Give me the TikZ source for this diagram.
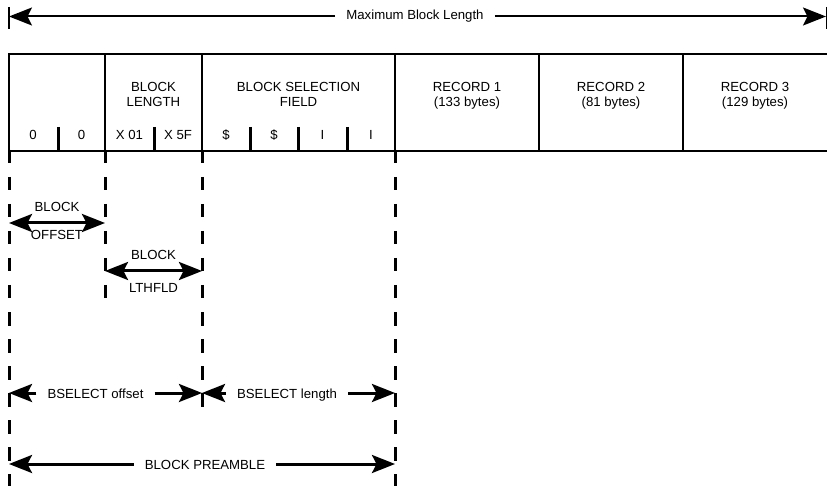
\documentclass[tikz,border=0pt]{standalone}
\usepackage{fontspec}
\setmainfont{Liberation Sans}
\usetikzlibrary{arrows.meta}

\begin{document}
\begin{tikzpicture}[x=1pt,y=-1pt,
  font=\fontsize{13.2}{15}\selectfont,
  lbl/.style={inner sep=0pt,text height=9.5pt,text depth=0pt},
  gap/.style={lbl,inner xsep=11pt},
  tbl/.style={line width=2pt},
  sep/.style={line width=3pt},
  guide/.style={line width=3pt,dash pattern=on 13.5pt off 13.5pt},
  tip/.tip={Stealth[length=23pt,width=18pt,inset=4.5pt]},
  dim/.style={line width=3pt,-tip},
  dimboth/.style={line width=3pt,tip-tip}]
  \useasboundingbox (0,0) rectangle (827,486);
  % maximum block length
  \coordinate (mL) at (9,16.5);
  \coordinate (mR) at (826,16.5);
  \draw[line width=2pt] (9,7) -- (9,29);
  \draw[line width=1pt] (826,7) -- (826,29);
  \node[gap] (maxlen) at (415,14.75) {Maximum Block Length};
  \draw[dim,line width=2pt] (maxlen.west |- mL) -- (mL);
  \draw[dim,line width=2pt] (maxlen.east |- mR) -- (mR);
  % block table
  \draw[tbl] (827,54) -- (9,54) -- (9,151) -- (827,151);
  \foreach \x in {105,202,395,539,683}
    \draw[tbl] (\x,54) -- (\x,151);
  \foreach \x in {58,154,250,298,347}
    \draw[sep] (\x,127) -- (\x,151);
  \foreach \x/\a/\b/\n in {153.5/BLOCK/LENGTH/blen, 298.5/BLOCK SELECTION/FIELD/bsel,
      467/RECORD 1/(133 bytes)/recA, 611/RECORD 2/(81 bytes)/recB, 755/RECORD 3/(129 bytes)/recC} {
    \node[lbl] (\n top) at (\x,87.25) {\a};
    \node[lbl] (\n bot) at (\x,102.25) {\b};
  }
  \foreach \x/\v/\n in {33/0/zA, 81.5/0/zB, 129.5/X 01/xA, 178/X 5F/xB,
      226/\$/dA, 274/\$/dB, 322.5/I/iA, 371/I/iB}
    \node[lbl] (\n) at (\x,135.25) {\v};
  % guide lines
  \draw[guide] (9,150) -- (9,486);
  \draw[guide] (105,150) -- (105,298.5);
  \draw[guide] (202,150) -- (202,406.5);
  \draw[guide] (395,150) -- (395,486);
  % block offset / lthfld
  \coordinate (ofL) at (9,223);
  \coordinate (ofR) at (105,223);
  \coordinate (lfL) at (105,271);
  \coordinate (lfR) at (202,271);
  \draw[dimboth] (ofL) -- (ofR);
  \node[lbl] (offA) at (57,207.25) {BLOCK};
  \node[lbl] (offB) at (57,234.75) {OFFSET};
  \draw[dimboth] (lfL) -- (lfR);
  \node[lbl] (lthA) at (153.5,255.25) {BLOCK};
  \node[lbl] (lthB) at (153.5,287.25) {LTHFLD};
  % bselect offset / length
  \coordinate (bsA) at (9,393);
  \coordinate (bsB) at (202,393);
  \coordinate (bsC) at (395,393);
  \node[gap] (bsoff) at (95.5,393.25) {BSELECT offset};
  \draw[dim] (bsoff.west |- bsA) -- (bsA);
  \draw[dim] (bsoff.east |- bsB) -- (bsB);
  \node[gap] (bslen) at (287,393.25) {BSELECT length};
  \draw[dim] (bslen.west |- bsB) -- (bsB);
  \draw[dim] (bslen.east |- bsC) -- (bsC);
  % block preamble
  \coordinate (prL) at (9,464);
  \coordinate (prR) at (395,464);
  \node[gap] (pream) at (205,464.75) {BLOCK PREAMBLE};
  \draw[dim] (pream.west |- prL) -- (prL);
  \draw[dim] (pream.east |- prR) -- (prR);
\end{tikzpicture}
\end{document}
